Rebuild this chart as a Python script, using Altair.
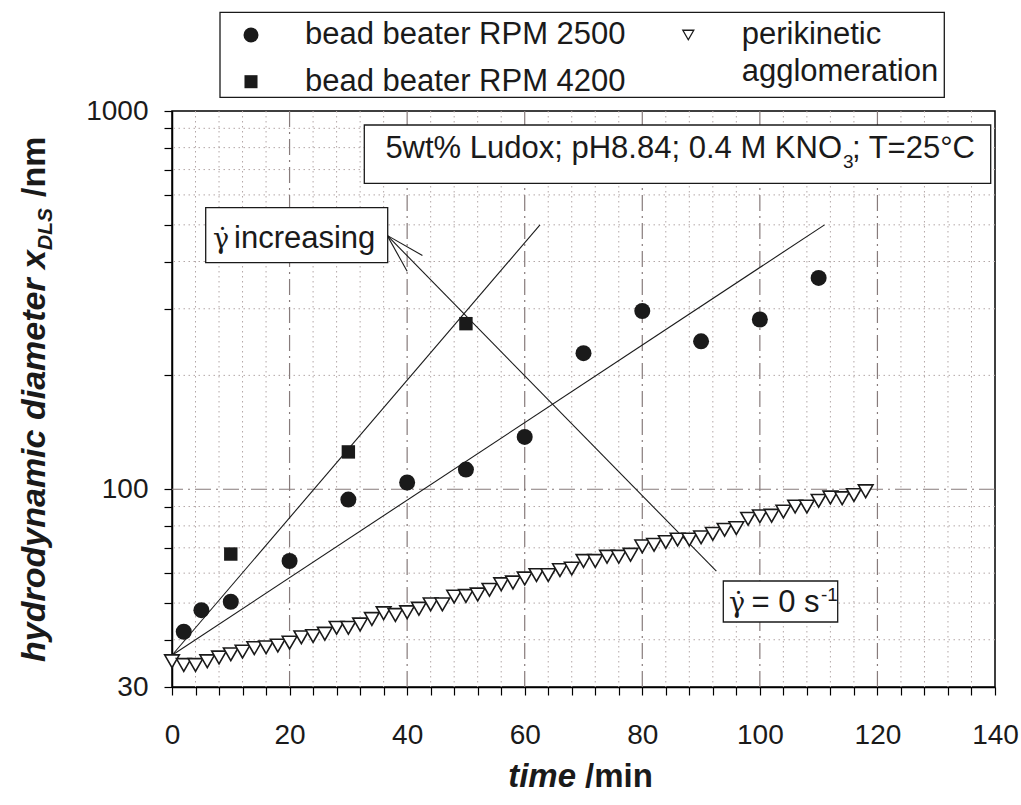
import altair as alt
import pandas as pd

# ---------------- data ----------------
rpm2500_t = [2, 5, 10, 20, 30, 40, 50, 60, 70, 80, 90, 100, 110]
rpm2500_d = [42.0, 47.9, 50.4, 64.6, 93.9, 104.2, 112.7, 137.5, 229, 296, 246, 281, 362]

rpm4200_t = [10, 30, 50]
rpm4200_d = [67.4, 125.5, 274]

peri_t = list(range(0, 120, 2))
peri_d = [35.1, 34.3, 34.3, 35.1, 35.9, 36.6, 37.2, 38.0, 38.2, 38.6,
          39.3, 40.6, 40.9, 41.5, 43.0, 43.0, 43.9, 45.4, 47.0, 46.5,
          47.3, 48.3, 49.6, 49.6, 52.0, 52.2, 52.7, 54.2, 56.1, 56.7,
          58.1, 59.3, 59.3, 61.1, 61.7, 64.6, 64.6, 66.3, 66.3, 67.1,
          70.6, 71.3, 72.5, 73.6, 73.6, 74.6, 76.2, 78.1, 78.9, 83.5,
          84.8, 85.1, 87.3, 90.0, 90.0, 93.2, 95.1, 94.7, 96.5, 98.8]

# guide lines (fits and the arrow with its two barbs)
seg_name = ["fit 4200", "fit 2500", "arrow", "barb 1", "barb 2"]
seg_x1 = [0, 0, 36.6, 36.6, 36.6]
seg_y1 = [36.4, 36.4, 469, 469, 469]
seg_x2 = [62.6, 111, 92.6, 42.6, 40.0]
seg_y2 = [500, 500, 60.7, 415, 377]

# grid / tick positions
x_ticks = list(range(0, 141, 4))
x_major = [20, 40, 60, 80, 100, 120]
x_minor = [v for v in x_ticks if v % 20 != 0 and 0 < v < 140]
y_ticks = [30, 40, 50, 60, 70, 80, 90, 100, 200, 300, 400, 500, 600, 700, 800, 900, 1000]
y_major = [100]
y_minor = [40, 50, 60, 70, 80, 90, 200, 300, 400, 500, 600, 700, 800, 900]

# ---------------- style ----------------
FONT = "Liberation Sans"
GFONT = "DejaVu Serif"
INK = "#1a1a1a"
W, H = 823, 576

df2500 = pd.DataFrame({"t": rpm2500_t, "d": rpm2500_d})
df4200 = pd.DataFrame({"t": rpm4200_t, "d": rpm4200_d})
dfperi = pd.DataFrame({"t": peri_t, "d": peri_d})
dfseg = pd.DataFrame({"name": seg_name, "x1": seg_x1, "y1": seg_y1, "x2": seg_x2, "y2": seg_y2})
one = pd.DataFrame({"k": [0]})

xscale = alt.Scale(domain=[0, 140], nice=False, zero=False)
yscale = alt.Scale(type="log", domain=[30, 1000], nice=False)

xaxis = alt.Axis(values=x_ticks, labelExpr="datum.value % 20 === 0 ? datum.label : ''",
                 grid=False, domainColor="black", domainWidth=1.5, tickColor="black",
                 tickWidth=1.2, tickSize=8, labelFontSize=28, labelFont=FONT, labelColor=INK,
                 labelPadding=26, title=None, labelAngle=0, labelFlush=False, labelOverlap=False)
yaxis = alt.Axis(values=y_ticks, format="d",
                 labelExpr="(datum.value == 30 || datum.value == 100 || datum.value == 1000) ? datum.label : ''",
                 grid=False, domainColor="black", domainWidth=1.5, tickColor="black",
                 tickWidth=1.2, tickSize=8, labelFontSize=28, labelFont=FONT, labelColor=INK,
                 labelPadding=16, title=None, labelFlush=False, labelOverlap=False)


def X(f):
    return alt.X(f, type="quantitative", scale=xscale, axis=xaxis)


def Y(f):
    return alt.Y(f, type="quantitative", scale=yscale, axis=yaxis)


layers = []

# grids
layers.append(alt.Chart(pd.DataFrame({"v": x_minor})).mark_rule(
    color="#b3a7a7", strokeWidth=1, strokeDash=[1.5, 3.5]).encode(x=X("v")))
layers.append(alt.Chart(pd.DataFrame({"v": y_minor})).mark_rule(
    color="#b3a7a7", strokeWidth=1, strokeDash=[1.5, 3.5]).encode(y=Y("v")))
layers.append(alt.Chart(pd.DataFrame({"v": x_major})).mark_rule(
    color="#877b7b", strokeWidth=1.2, strokeDash=[16, 5, 2, 5]).encode(x=X("v")))
layers.append(alt.Chart(pd.DataFrame({"v": y_major})).mark_rule(
    color="#877b7b", strokeWidth=1.2, strokeDash=[16, 5, 2, 5]).encode(y=Y("v")))

# guide lines
layers.append(alt.Chart(dfseg).mark_rule(color=INK, strokeWidth=1.1).encode(
    x=X("x1"), y=Y("y1"), x2="x2", y2="y2"))

# data
layers.append(alt.Chart(dfperi).mark_point(
    shape="triangle-down", filled=True, fill="white", stroke=INK, strokeWidth=1.6,
    size=215, opacity=1).encode(x=X("t"), y=Y("d")))
layers.append(alt.Chart(df2500).mark_point(
    shape="circle", filled=True, color=INK, size=256, opacity=1).encode(x=X("t"), y=Y("d")))
layers.append(alt.Chart(df4200).mark_point(
    shape="square", filled=True, color=INK, size=180, opacity=1).encode(x=X("t"), y=Y("d")))


def box(x1, y1, x2, y2):
    return alt.Chart(one).mark_rect(fill="white", stroke=INK, strokeWidth=1.3).encode(
        x=alt.value(x1), x2=alt.value(x2), y=alt.value(y1), y2=alt.value(y2))


def txt(s, x, y, size=31, align="left", baseline="alphabetic", style="normal",
        weight="normal", angle=0, font=FONT):
    return alt.Chart(one).mark_text(
        text=s, align=align, baseline=baseline, fontSize=size, font=font,
        fontStyle=style, fontWeight=weight, angle=angle, color=INK).encode(
        x=alt.value(x), y=alt.value(y))


# annotation: conditions
layers.append(box(192.3, 14, 818.7, 72.3))
layers.append(txt("5wt% Ludox; pH8.84; 0.4 M KNO", 670, 47.3, align="right"))
layers.append(txt("3", 671, 57, size=19))
layers.append(txt("; T=25°C", 680, 47.3))

# annotation: shear rate increasing
layers.append(box(33.7, 96.7, 215.7, 151.7))
layers.append(txt("\u03b3\u0307", 41, 137.3, size=27, font=GFONT))
layers.append(txt("increasing", 62, 137.3))

# annotation: shear rate zero
layers.append(box(551.3, 470, 665.7, 511))
layers.append(txt("\u03b3\u0307", 557, 501.3, size=27, font=GFONT))
layers.append(txt("= 0 s", 647.5, 501.3, align="right"))
layers.append(txt("-1", 649, 489.5, size=19))

# legend
layers.append(box(48, -98.7, 772.3, -13.7))
layers.append(alt.Chart(one).mark_point(shape="circle", filled=True, color=INK, size=225,
                                        opacity=1).encode(x=alt.value(79), y=alt.value(-76)))
layers.append(alt.Chart(one).mark_point(shape="square", filled=True, color=INK, size=170,
                                        opacity=1).encode(x=alt.value(79), y=alt.value(-29.3)))
layers.append(alt.Chart(one).mark_point(shape="triangle-down", filled=True, fill="white",
                                        stroke=INK, strokeWidth=1.3, size=120, opacity=1).encode(
    x=alt.value(516.3), y=alt.value(-76)))
layers.append(txt("bead beater RPM 2500", 133, -76, baseline="middle"))
layers.append(txt("bead beater RPM 4200", 133, -29.3, baseline="middle"))
layers.append(txt("perikinetic", 569.7, -76, baseline="middle"))
layers.append(txt("agglomeration", 569.7, -39.3, baseline="middle"))

# axis titles
layers.append(txt("hydrodynamic diameter x", -127, 139, size=34, align="right",
                  style="italic", weight="bold", angle=270))
layers.append(txt("DLS", -120, 139, size=21, align="left", style="italic",
                  weight="bold", angle=270))
layers.append(txt("/nm", -127, 86, size=34, align="left", weight="bold", angle=270))
layers.append(txt("time", 404, 676, size=33, align="right", style="italic", weight="bold"))
layers.append(txt("/min", 413, 676, size=33, align="left", weight="bold"))

chart = alt.layer(*layers).properties(
    width=W, height=H,
    padding={"left": 172, "top": 111, "right": 26, "bottom": 118},
    autosize=alt.AutoSizeParams(type="none"),
    background="white",
).configure_view(stroke="black", strokeWidth=1.5)

chart.save("out.html", embed_options={"renderer": "svg", "actions": False})
